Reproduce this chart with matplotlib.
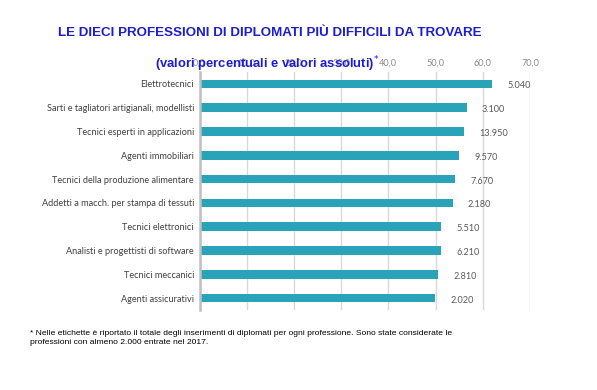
import matplotlib.pyplot as plt

# Dati (percentuale di difficoltà di reperimento, inserimenti assoluti)
categories = [
    "Elettrotecnici",
    "Sarti e tagliatori artigianali, modellisti",
    "Tecnici esperti in applicazioni",
    "Agenti immobiliari",
    "Tecnici della produzione alimentare",
    "Addetti a macch. per stampa di tessuti",
    "Tecnici elettronici",
    "Analisti e progettisti di software",
    "Tecnici meccanici",
    "Agenti assicurativi",
]
values = [62.0, 56.6, 56.1, 55.0, 54.2, 53.6, 51.2, 51.1, 50.6, 49.9]
labels = ["5.040", "3.100", "13.950", "9.570", "7.670", "2.180",
          "5.510", "6.210", "2.810", "2.020"]
ticks = [0, 10, 20, 30, 40, 50, 60, 70]
tick_labels = ["0,0", "10,0", "20,0", "30,0", "40,0", "50,0", "60,0", "70,0"]

W, H = 597, 390
fig = plt.figure(figsize=(W / 100, H / 100), dpi=100)
ax = fig.add_axes([199.5 / W, 1 - 310 / H, (530 - 199.5) / W, (310 - 72) / H])

y = list(range(len(categories)))
ax.barh(y, values, height=0.36, color="#28A3B7", zorder=2)
ax.set_ylim(len(categories) - 0.5, -0.5)
ax.set_xlim(0, 70)

ax.set_yticks(y)
ax.set_yticklabels(categories, fontsize=6.6, color="#404040", family="Lato")
ax.tick_params(axis="y", length=0, pad=4)

ax.xaxis.tick_top()
ax.set_xticks(ticks)
ax.set_xticklabels(tick_labels, fontsize=6.6, color="#8C8C8C", family="Lato")
ax.tick_params(axis="x", length=0, pad=3)
ax.grid(axis="x", color="#D9D9D9", linewidth=1, zorder=0)

for s in ["top", "right", "bottom"]:
    ax.spines[s].set_visible(False)
ax.spines["left"].set_color("#BFBFBF")
ax.spines["left"].set_linewidth(1.8)

for yi, v, lab in zip(y, values, labels):
    ax.annotate(lab, (v, yi), xytext=(11, -1.5), textcoords="offset points",
                ha="left", va="center", fontsize=6.6, color="#595959",
                family="Lato")

blue = "#1C1CD2"
fig.text(270 / W, 1 - 33 / H, "LE DIECI PROFESSIONI DI DIPLOMATI PIÙ DIFFICILI DA TROVARE",
         ha="center", va="center", fontsize=9.6, fontweight="bold",
         color=blue, family="Liberation Sans")
fig.text(155 / W, 1 - 64 / H, "(valori percentuali e valori assoluti)$^{*}$",
         ha="left", va="center", fontsize=9.4, fontweight="bold",
         color=blue, family="Liberation Sans")

fig.text(30 / W, 1 - 338 / H,
         "* Nelle etichette è riportato il totale degli inserimenti di diplomati per ogni professione. Sono state considerate le\n"
         "professioni con almeno 2.000 entrate nel 2017.",
         ha="left", va="center", fontsize=6.1, color="#000000",
         family="Liberation Sans", linespacing=1.3)

fig.savefig("out.png", dpi=100)
